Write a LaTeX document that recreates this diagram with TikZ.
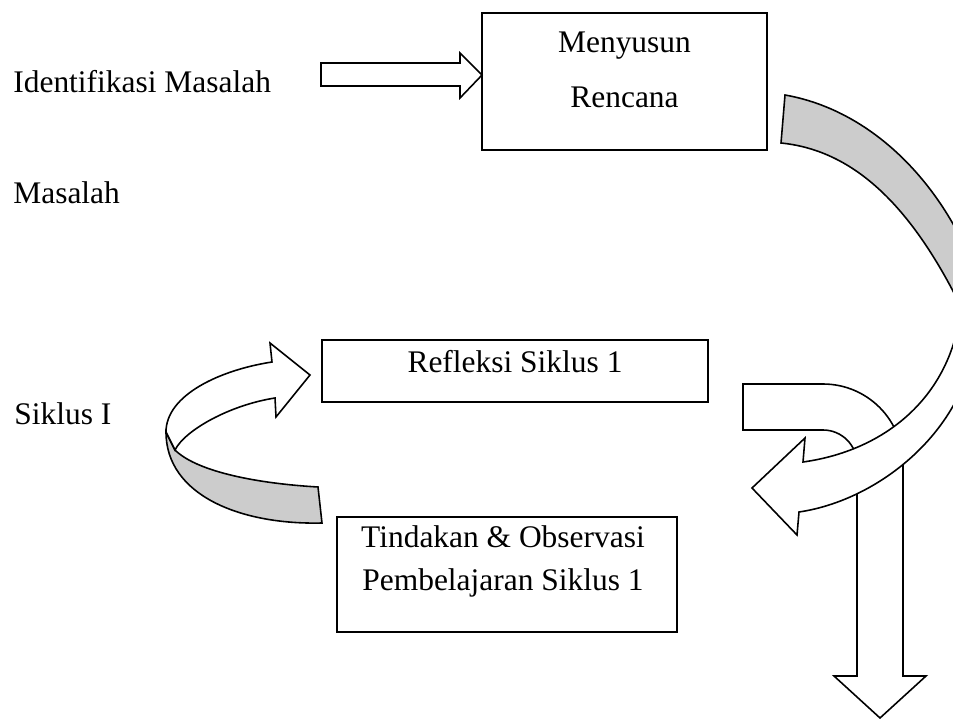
\documentclass[tikz,border=0pt]{standalone}
\usepackage{fontspec}
\setmainfont{Liberation Serif}
\definecolor{bandgray}{RGB}{204,204,204}
\begin{document}
\begin{tikzpicture}[x=0.02cm,y=-0.02cm,
  lbl/.style={inner sep=0pt,font=\fontsize{17.9}{21}\selectfont},
  boxnode/.style={draw,line width=0.9pt,inner sep=0pt,outer sep=0pt},
  shapeline/.style={draw=black,line width=0.9pt,line join=miter}]
\useasboundingbox (0,0) rectangle (953,719);
\begin{scope}
\clip (0,0) rectangle (953,719);
% boxes
\node[boxnode,minimum width=5.7cm,minimum height=2.74cm] (rencana) at (624.5,81.5) {};
\node[boxnode,minimum width=7.72cm,minimum height=1.24cm] (refleksi) at (515,371) {};
\node[boxnode,minimum width=6.8cm,minimum height=2.3cm] (tindakan) at (507,574.5) {};
% texts
\node[lbl,anchor=base west] (ident) at (13,93) {Identifikasi Masalah};
\node[lbl,anchor=base west] (masalah) at (13,204) {Masalah};
\node[lbl,anchor=base west] (siklus) at (14,424) {Siklus I};
\node[lbl,anchor=base] (t1) at (624.5,53) {Menyusun};
\node[lbl,anchor=base] (t2) at (624.5,108) {Rencana};
\node[lbl,anchor=base] (t3) at (515,373) {Refleksi Siklus 1};
\node[lbl,anchor=base] (t4) at (503,547) {Tindakan \& Observasi};
\node[lbl,anchor=base] (t5) at (503,590) {Pembelajaran Siklus 1};
% top block arrow
\coordinate (a0) at (321,63);
\coordinate (atip) at (rencana.west |- 0,75);
\path[shapeline,fill=white] (a0) -- (460,63) -- (460,53) -- (atip) -- (460,98) -- (460,86) -- (321,86) -- cycle;
% bent arrow (behind)
\path[shapeline,fill=white] (743,384) -- (823,384)
  .. controls (867.2,384) and (903,419.8) .. (903,464)
  -- (903,676) -- (926,676) -- (880,718) -- (834,676) -- (857,676) -- (857,464)
  .. controls (857,445.2) and (841.8,430) .. (823,430)
  -- (743,430) -- cycle;
% big curved arrow: back (gray) part
\path[shapeline,fill=bandgray] (785,95) .. controls (870,110) and (940,180) .. (975,270)
  -- (965,315) .. controls (910,200) and (850,150) .. (781,143) -- cycle;
% big curved arrow: front (white) part
\path[shapeline,fill=white] (962,290) .. controls (960,390) and (890,450) .. (803,462)
  -- (805,438) -- (752,488) -- (797,535) -- (799,512)
  .. controls (880,500) and (965,430) .. (975,340) -- cycle;
% left curved arrow: gray part
\path[shapeline,fill=bandgray] (166,432) .. controls (166,495) and (240,525) .. (322,523)
  -- (318,487) .. controls (250,483) and (195,470) .. (175,450) -- cycle;
% left curved arrow: white part
\coordinate (ltip) at (310,375);
\path[shapeline,fill=white] (166,432) .. controls (166,395) and (220,370) .. (272,362)
  -- (270,343) -- (ltip) -- (276,417) -- (275,398)
  .. controls (230,405) and (185,430) .. (175,450) -- cycle;
\end{scope}
\end{tikzpicture}
\end{document}
